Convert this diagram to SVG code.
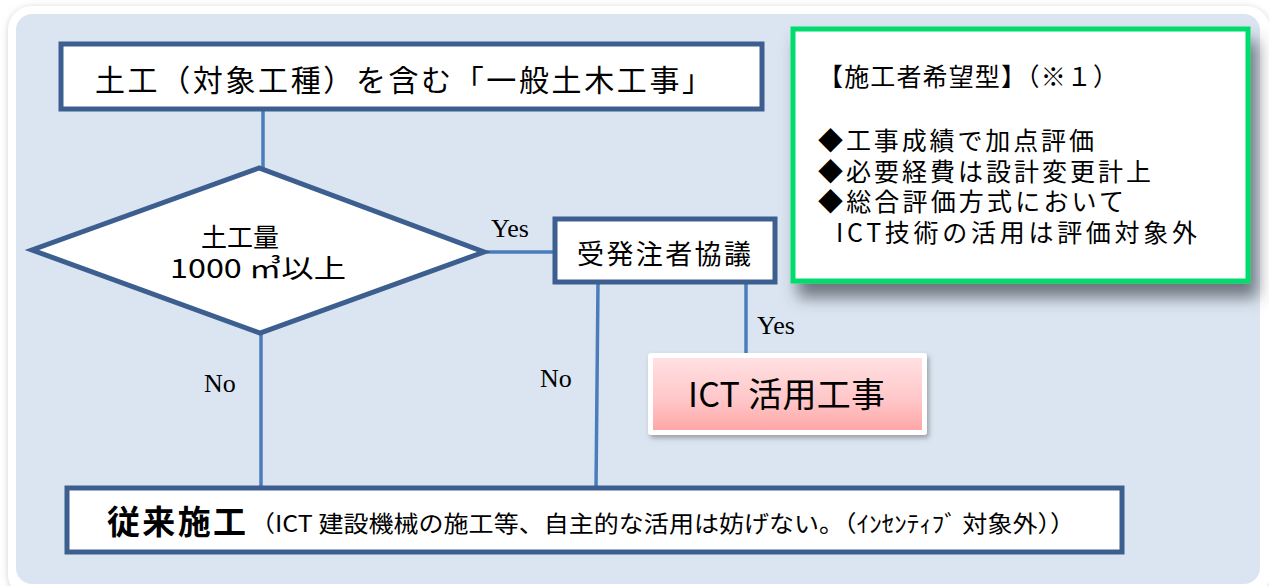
<svg xmlns="http://www.w3.org/2000/svg" width="1269" height="586" viewBox="0 0 1269 586">
<defs>
<style>
.jp{font-family:"Noto Sans CJK JP","Noto Sans",sans-serif;fill:#000}
.lbl{font-family:"Liberation Serif","Times New Roman",serif;font-size:26px;fill:#000}
.box{fill:#fff;stroke:#3C5F8F;stroke-width:5}
.con{stroke:#4A7EBB;stroke-width:3.5;fill:none}
</style>
<linearGradient id="pink" x1="0" y1="0" x2="0" y2="1">
<stop offset="0" stop-color="#FFE0E2"/>
<stop offset="0.6" stop-color="#FFC6C8"/>
<stop offset="1" stop-color="#FFA6A6"/>
</linearGradient>
<filter id="sh" x="-10%" y="-10%" width="130%" height="140%">
<feDropShadow dx="7" dy="14" stdDeviation="8" flood-color="#3f4550" flood-opacity="0.7"/>
</filter>
<filter id="sh2" x="-10%" y="-20%" width="130%" height="150%">
<feDropShadow dx="2" dy="3" stdDeviation="2.5" flood-color="#555" flood-opacity="0.5"/>
</filter>
<filter id="sh3" x="-5%" y="-5%" width="110%" height="110%">
<feDropShadow dx="0" dy="1" stdDeviation="3" flood-color="#888" flood-opacity="0.4"/>
</filter>
</defs>
<rect x="0" y="0" width="1269" height="586" fill="#fff"/>
<rect x="8" y="6" width="1262" height="592" rx="24" fill="#fff" filter="url(#sh3)"/>
<rect x="16" y="14" width="1244" height="570" rx="16" fill="#DBE5F1"/>

<g id="connectors">
<line class="con" x1="263" y1="109" x2="263" y2="168"/>
<line class="con" x1="484" y1="252" x2="556" y2="252"/>
<line class="con" x1="261" y1="333" x2="261" y2="489"/>
<line class="con" x1="598" y1="283" x2="596" y2="489"/>
<line class="con" x1="746" y1="283" x2="746" y2="353"/>
<text class="lbl" x="491" y="237">Yes</text>
<text class="lbl" x="757" y="334">Yes</text>
<text class="lbl" x="540" y="387">No</text>
<text class="lbl" x="204" y="392">No</text>
</g>

<g id="start">
<rect class="box" x="61" y="44" width="701" height="65"/>
<text class="jp" x="95" y="91" font-size="30" textLength="617" lengthAdjust="spacing">土工（対象工種）を含む「一般土木工事」</text>
</g>

<g id="decision">
<polygon class="box" points="259,168 32,250 260,333 484,252"/>
<text class="jp" font-size="26"><tspan x="240" y="247" text-anchor="middle">土工量</tspan><tspan x="170" y="278" textLength="176" lengthAdjust="spacingAndGlyphs">1000 ㎥以上</tspan></text>
</g>

<g id="consult">
<rect class="box" x="555" y="219" width="220" height="63"/>
<text class="jp" x="577" y="264" font-size="27" textLength="174" lengthAdjust="spacing">受発注者協議</text>
</g>

<g id="ict">
<rect x="648" y="353" width="279" height="82" rx="3" fill="#fff" filter="url(#sh2)"/>
<rect x="653" y="358" width="269" height="72" fill="url(#pink)"/>
<text class="jp" x="688" y="407" font-size="34" textLength="197" lengthAdjust="spacing">ICT 活用工事</text>
</g>

<g id="conventional">
<rect class="box" x="67" y="488" width="1055" height="64"/>
<text class="jp" x="107" y="534" font-size="33" font-weight="bold" textLength="139" lengthAdjust="spacing">従来施工</text>
<text class="jp" x="250" y="532" font-size="23" textLength="825" lengthAdjust="spacingAndGlyphs">（ICT 建設機械の施工等、自主的な活用は妨げない。（ｲﾝｾﾝﾃｨﾌﾞ 対象外））</text>
</g>

<g id="note">
<rect x="793" y="29" width="455" height="252" fill="#fff" stroke="#00DD6E" stroke-width="5" filter="url(#sh)"/>
<text class="jp" font-size="25"><tspan x="818" y="86" textLength="300" lengthAdjust="spacing">【施工者希望型】（※１）</tspan><tspan x="818" y="150" textLength="276" lengthAdjust="spacing">◆工事成績で加点評価</tspan><tspan x="818" y="181" textLength="333" lengthAdjust="spacing">◆必要経費は設計変更計上</tspan><tspan x="818" y="211" textLength="306" lengthAdjust="spacing">◆総合評価方式において</tspan><tspan x="836" y="242" textLength="361" lengthAdjust="spacing">ICT技術の活用は評価対象外</tspan></text>
</g>
</svg>
